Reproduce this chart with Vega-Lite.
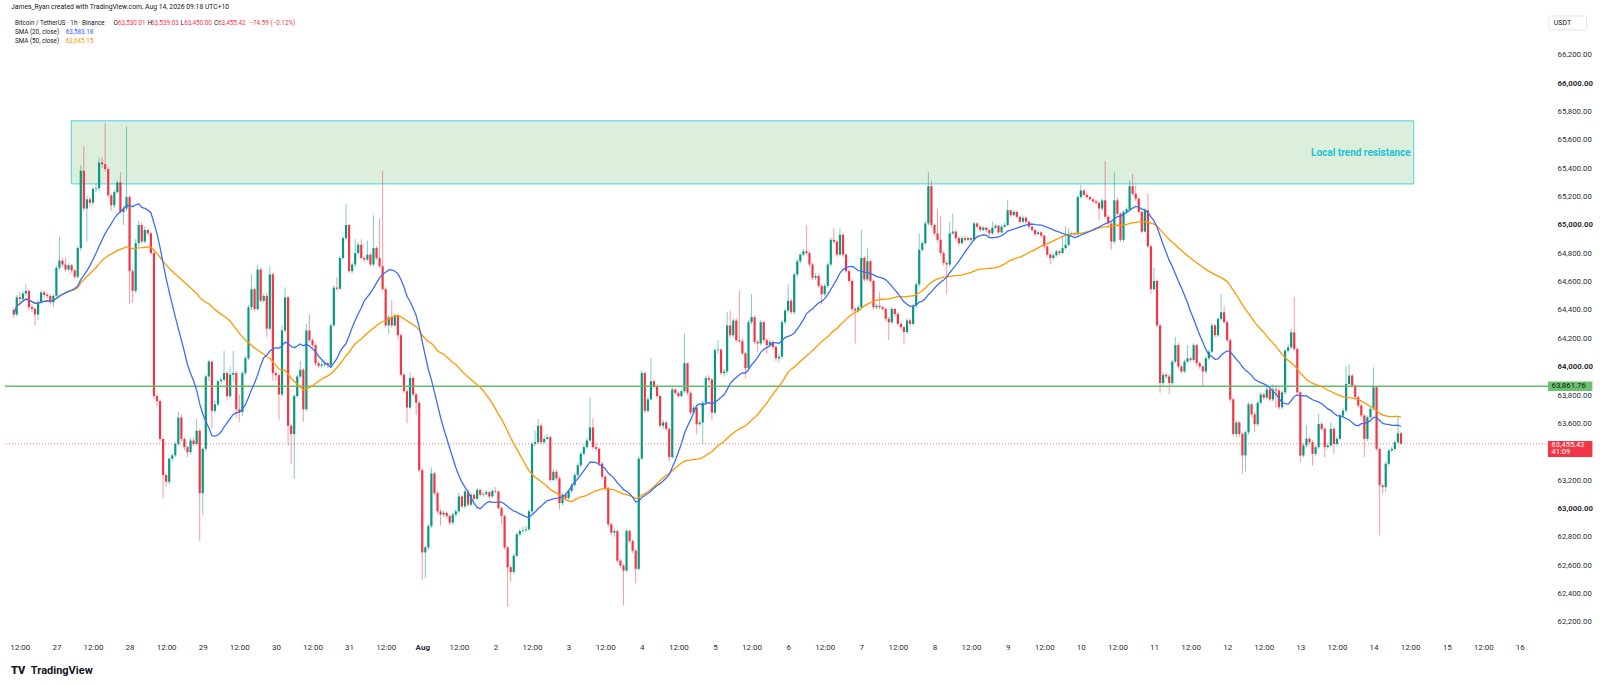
{
"$schema": "https://vega.github.io/schema/vega-lite/v6.json",
"width": 1547, "height": 623,
"autosize": {"type": "none"},
"padding": {"left": 5, "top": 15, "right": 48, "bottom": 48},
"background": "white",
"config": {"view": {"stroke": null}, "text": {"font": "Roboto"}, "axis": {"labelFont": "Roboto", "labelOverlap": false}},
"data": {"values": [
{"t":10,"o":64400,"h":64415,"l":64345,"c":64368},
{"t":11,"o":64368,"h":64505,"l":64355,"c":64489},
{"t":12,"o":64489,"h":64525,"l":64455,"c":64477},
{"t":13,"o":64477,"h":64535,"l":64462,"c":64517},
{"t":14,"o":64517,"h":64582,"l":64500,"c":64535},
{"t":15,"o":64535,"h":64548,"l":64400,"c":64419},
{"t":16,"o":64419,"h":64440,"l":64385,"c":64407},
{"t":17,"o":64407,"h":64420,"l":64291,"c":64368},
{"t":18,"o":64368,"h":64470,"l":64330,"c":64454},
{"t":19,"o":64454,"h":64540,"l":64440,"c":64524},
{"t":20,"o":64524,"h":64538,"l":64490,"c":64507},
{"t":21,"o":64507,"h":64522,"l":64480,"c":64498},
{"t":22,"o":64498,"h":64512,"l":64440,"c":64454},
{"t":23,"o":64454,"h":64512,"l":64420,"c":64500},
{"t":24,"o":64500,"h":64712,"l":64490,"c":64698},
{"t":25,"o":64698,"h":64918,"l":64682,"c":64749},
{"t":26,"o":64749,"h":64767,"l":64702,"c":64721},
{"t":27,"o":64721,"h":64767,"l":64670,"c":64686},
{"t":28,"o":64686,"h":64730,"l":64672,"c":64716},
{"t":29,"o":64716,"h":64725,"l":64660,"c":64679},
{"t":30,"o":64679,"h":64690,"l":64620,"c":64635},
{"t":31,"o":64635,"h":64852,"l":64622,"c":64837},
{"t":32,"o":64837,"h":65420,"l":64820,"c":65383},
{"t":33,"o":65383,"h":65557,"l":65100,"c":65116},
{"t":34,"o":65116,"h":65205,"l":64883,"c":65181},
{"t":35,"o":65181,"h":65200,"l":65130,"c":65157},
{"t":36,"o":65157,"h":65267,"l":65140,"c":65255},
{"t":37,"o":65255,"h":65290,"l":65230,"c":65260},
{"t":38,"o":65260,"h":65476,"l":65240,"c":65441},
{"t":39,"o":65441,"h":65476,"l":65400,"c":65429},
{"t":40,"o":65429,"h":65719,"l":65380,"c":65394},
{"t":41,"o":65394,"h":65405,"l":65190,"c":65209},
{"t":42,"o":65209,"h":65222,"l":65100,"c":65139},
{"t":43,"o":65139,"h":65250,"l":65120,"c":65232},
{"t":44,"o":65232,"h":65315,"l":65220,"c":65301},
{"t":45,"o":65301,"h":65371,"l":65080,"c":65092},
{"t":46,"o":65092,"h":65135,"l":65000,"c":65116},
{"t":47,"o":65116,"h":65696,"l":65100,"c":65197},
{"t":48,"o":65197,"h":65212,"l":64442,"c":64674},
{"t":49,"o":64674,"h":64690,"l":64450,"c":64535},
{"t":50,"o":64535,"h":64900,"l":64520,"c":64872},
{"t":51,"o":64872,"h":65030,"l":64850,"c":65000},
{"t":52,"o":65000,"h":65020,"l":64870,"c":64883},
{"t":53,"o":64883,"h":64990,"l":64870,"c":64965},
{"t":54,"o":64965,"h":64975,"l":64925,"c":64941},
{"t":55,"o":64941,"h":64950,"l":64790,"c":64802},
{"t":56,"o":64802,"h":64820,"l":63770,"c":63792},
{"t":57,"o":63792,"h":63805,"l":63720,"c":63757},
{"t":58,"o":63757,"h":63770,"l":63470,"c":63490},
{"t":59,"o":63490,"h":63500,"l":63072,"c":63235},
{"t":60,"o":63235,"h":63250,"l":63150,"c":63188},
{"t":61,"o":63188,"h":63360,"l":63170,"c":63351},
{"t":62,"o":63351,"h":63390,"l":63330,"c":63374},
{"t":63,"o":63374,"h":63470,"l":63360,"c":63455},
{"t":64,"o":63455,"h":63680,"l":63440,"c":63641},
{"t":65,"o":63641,"h":63660,"l":63470,"c":63490},
{"t":66,"o":63490,"h":63500,"l":63410,"c":63432},
{"t":67,"o":63432,"h":63440,"l":63360,"c":63397},
{"t":68,"o":63397,"h":63500,"l":63380,"c":63479},
{"t":69,"o":63479,"h":63500,"l":63440,"c":63455},
{"t":70,"o":63455,"h":63630,"l":63440,"c":63548},
{"t":71,"o":63548,"h":63560,"l":62770,"c":63107},
{"t":72,"o":63107,"h":63430,"l":62950,"c":63420},
{"t":73,"o":63420,"h":63945,"l":63400,"c":63931},
{"t":74,"o":63931,"h":64050,"l":63900,"c":64036},
{"t":75,"o":64036,"h":64040,"l":63560,"c":63688},
{"t":76,"o":63688,"h":63760,"l":63670,"c":63734},
{"t":77,"o":63734,"h":63910,"l":63720,"c":63897},
{"t":78,"o":63897,"h":63925,"l":63880,"c":63908},
{"t":79,"o":63908,"h":64110,"l":63890,"c":63955},
{"t":80,"o":63955,"h":63970,"l":63760,"c":63792},
{"t":81,"o":63792,"h":64000,"l":63780,"c":63943},
{"t":82,"o":63943,"h":64110,"l":63900,"c":63955},
{"t":83,"o":63955,"h":63970,"l":63640,"c":63699},
{"t":84,"o":63699,"h":63800,"l":63610,"c":63680},
{"t":85,"o":63680,"h":63970,"l":63650,"c":63955},
{"t":86,"o":63955,"h":64075,"l":63940,"c":64059},
{"t":87,"o":64059,"h":64435,"l":64045,"c":64419},
{"t":88,"o":64419,"h":64650,"l":64400,"c":64547},
{"t":89,"o":64547,"h":64560,"l":64390,"c":64407},
{"t":90,"o":64407,"h":64720,"l":64395,"c":64686},
{"t":91,"o":64686,"h":64700,"l":64450,"c":64465},
{"t":92,"o":64465,"h":64515,"l":64450,"c":64500},
{"t":93,"o":64500,"h":64520,"l":64210,"c":64268},
{"t":94,"o":64268,"h":64709,"l":64255,"c":64651},
{"t":95,"o":64651,"h":64665,"l":63900,"c":63955},
{"t":96,"o":63955,"h":63970,"l":63900,"c":63940},
{"t":97,"o":63940,"h":63955,"l":63620,"c":63804},
{"t":98,"o":63804,"h":64290,"l":63790,"c":64256},
{"t":99,"o":64256,"h":64560,"l":64240,"c":64489},
{"t":100,"o":64489,"h":64500,"l":63444,"c":63583},
{"t":101,"o":63583,"h":63600,"l":63313,"c":63525},
{"t":102,"o":63525,"h":63805,"l":63209,"c":63792},
{"t":103,"o":63792,"h":63945,"l":63780,"c":63931},
{"t":104,"o":63931,"h":64040,"l":63915,"c":63978},
{"t":105,"o":63978,"h":63990,"l":63610,"c":63699},
{"t":106,"o":63699,"h":64300,"l":63685,"c":64256},
{"t":107,"o":64256,"h":64370,"l":64170,"c":64187},
{"t":108,"o":64187,"h":64200,"l":64135,"c":64152},
{"t":109,"o":64152,"h":64165,"l":64005,"c":64024},
{"t":110,"o":64024,"h":64040,"l":63990,"c":64006},
{"t":111,"o":64006,"h":64040,"l":63990,"c":64015},
{"t":112,"o":64015,"h":64045,"l":63995,"c":64024},
{"t":113,"o":64024,"h":64035,"l":63990,"c":64010},
{"t":114,"o":64010,"h":64305,"l":63998,"c":64291},
{"t":115,"o":64291,"h":64575,"l":64280,"c":64558},
{"t":116,"o":64558,"h":64628,"l":64535,"c":64550},
{"t":117,"o":64550,"h":64780,"l":64540,"c":64767},
{"t":118,"o":64767,"h":64920,"l":64755,"c":64907},
{"t":119,"o":64907,"h":65150,"l":64890,"c":65000},
{"t":120,"o":65000,"h":65010,"l":64660,"c":64674},
{"t":121,"o":64674,"h":64735,"l":64660,"c":64721},
{"t":122,"o":64721,"h":64900,"l":64705,"c":64802},
{"t":123,"o":64802,"h":64880,"l":64790,"c":64860},
{"t":124,"o":64860,"h":64900,"l":64755,"c":64767},
{"t":125,"o":64767,"h":64780,"l":64740,"c":64756},
{"t":126,"o":64756,"h":64890,"l":64745,"c":64790},
{"t":127,"o":64790,"h":64800,"l":64705,"c":64721},
{"t":128,"o":64721,"h":65069,"l":64710,"c":64837},
{"t":129,"o":64837,"h":64850,"l":64750,"c":64767},
{"t":130,"o":64767,"h":65045,"l":64695,"c":64709},
{"t":131,"o":64709,"h":65383,"l":64535,"c":64547},
{"t":132,"o":64547,"h":64560,"l":64275,"c":64291},
{"t":133,"o":64291,"h":64365,"l":64230,"c":64349},
{"t":134,"o":64349,"h":64470,"l":64275,"c":64291},
{"t":135,"o":64291,"h":64375,"l":64280,"c":64361},
{"t":136,"o":64361,"h":64375,"l":64190,"c":64222},
{"t":137,"o":64222,"h":64235,"l":63930,"c":63943},
{"t":138,"o":63943,"h":63955,"l":63815,"c":63827},
{"t":139,"o":63827,"h":63840,"l":63600,"c":63711},
{"t":140,"o":63711,"h":63960,"l":63700,"c":63920},
{"t":141,"o":63920,"h":63930,"l":63790,"c":63804},
{"t":142,"o":63804,"h":63815,"l":63660,"c":63746},
{"t":143,"o":63746,"h":63760,"l":63255,"c":63270},
{"t":144,"o":63270,"h":63285,"l":62492,"c":62689},
{"t":145,"o":62689,"h":62740,"l":62510,"c":62724},
{"t":146,"o":62724,"h":62890,"l":62705,"c":62875},
{"t":147,"o":62875,"h":63290,"l":62860,"c":63246},
{"t":148,"o":63246,"h":63260,"l":63090,"c":63107},
{"t":149,"o":63107,"h":63120,"l":62960,"c":62979},
{"t":150,"o":62979,"h":62995,"l":62880,"c":62956},
{"t":151,"o":62956,"h":62985,"l":62940,"c":62968},
{"t":152,"o":62968,"h":62980,"l":62930,"c":62945},
{"t":153,"o":62945,"h":62960,"l":62880,"c":62899},
{"t":154,"o":62899,"h":62970,"l":62885,"c":62956},
{"t":155,"o":62956,"h":62995,"l":62940,"c":62979},
{"t":156,"o":62979,"h":63110,"l":62965,"c":63084},
{"t":157,"o":63084,"h":63095,"l":63000,"c":63014},
{"t":158,"o":63014,"h":63135,"l":63000,"c":63119},
{"t":159,"o":63119,"h":63135,"l":63010,"c":63026},
{"t":160,"o":63026,"h":63110,"l":63015,"c":63096},
{"t":161,"o":63096,"h":63105,"l":63055,"c":63068},
{"t":162,"o":63068,"h":63145,"l":63060,"c":63130},
{"t":163,"o":63130,"h":63140,"l":63085,"c":63096},
{"t":164,"o":63096,"h":63115,"l":63080,"c":63100},
{"t":165,"o":63100,"h":63130,"l":63090,"c":63114},
{"t":166,"o":63114,"h":63125,"l":63070,"c":63084},
{"t":167,"o":63084,"h":63135,"l":63075,"c":63123},
{"t":168,"o":63123,"h":63150,"l":63105,"c":63119},
{"t":169,"o":63119,"h":63125,"l":62990,"c":63003},
{"t":170,"o":63003,"h":63010,"l":62887,"c":62945},
{"t":171,"o":62945,"h":62955,"l":62710,"c":62724},
{"t":172,"o":62724,"h":62735,"l":62306,"c":62584},
{"t":173,"o":62584,"h":62600,"l":62480,"c":62550},
{"t":174,"o":62550,"h":62680,"l":62540,"c":62666},
{"t":175,"o":62666,"h":62830,"l":62655,"c":62817},
{"t":176,"o":62817,"h":62855,"l":62800,"c":62840},
{"t":177,"o":62840,"h":62870,"l":62825,"c":62845},
{"t":178,"o":62845,"h":62875,"l":62830,"c":62852},
{"t":179,"o":62852,"h":62995,"l":62840,"c":62979},
{"t":180,"o":62979,"h":63470,"l":62965,"c":63455},
{"t":181,"o":63455,"h":63548,"l":63440,"c":63467},
{"t":182,"o":63467,"h":63630,"l":63455,"c":63583},
{"t":183,"o":63583,"h":63600,"l":63450,"c":63467},
{"t":184,"o":63467,"h":63510,"l":63455,"c":63490},
{"t":185,"o":63490,"h":63525,"l":63480,"c":63502},
{"t":186,"o":63502,"h":63515,"l":63185,"c":63200},
{"t":187,"o":63200,"h":63275,"l":63190,"c":63258},
{"t":188,"o":63258,"h":63270,"l":63195,"c":63212},
{"t":189,"o":63212,"h":63225,"l":62990,"c":63037},
{"t":190,"o":63037,"h":63110,"l":63020,"c":63096},
{"t":191,"o":63096,"h":63105,"l":63055,"c":63072},
{"t":192,"o":63072,"h":63135,"l":63060,"c":63123},
{"t":193,"o":63123,"h":63180,"l":63110,"c":63165},
{"t":194,"o":63165,"h":63250,"l":63150,"c":63235},
{"t":195,"o":63235,"h":63320,"l":63220,"c":63304},
{"t":196,"o":63304,"h":63400,"l":63290,"c":63386},
{"t":197,"o":63386,"h":63450,"l":63375,"c":63432},
{"t":198,"o":63432,"h":63500,"l":63420,"c":63479},
{"t":199,"o":63479,"h":63780,"l":63465,"c":63571},
{"t":200,"o":63571,"h":63640,"l":63420,"c":63432},
{"t":201,"o":63432,"h":63460,"l":63400,"c":63420},
{"t":202,"o":63420,"h":63430,"l":63300,"c":63316},
{"t":203,"o":63316,"h":63330,"l":63205,"c":63223},
{"t":204,"o":63223,"h":63235,"l":63125,"c":63142},
{"t":205,"o":63142,"h":63155,"l":62870,"c":62887},
{"t":206,"o":62887,"h":62900,"l":62810,"c":62829},
{"t":207,"o":62829,"h":62860,"l":62800,"c":62840},
{"t":208,"o":62840,"h":62850,"l":62615,"c":62631},
{"t":209,"o":62631,"h":62645,"l":62580,"c":62596},
{"t":210,"o":62596,"h":62610,"l":62318,"c":62561},
{"t":211,"o":62561,"h":62855,"l":62550,"c":62840},
{"t":212,"o":62840,"h":62850,"l":62755,"c":62770},
{"t":213,"o":62770,"h":62780,"l":62685,"c":62701},
{"t":214,"o":62701,"h":62715,"l":62470,"c":62573},
{"t":215,"o":62573,"h":63365,"l":62560,"c":63351},
{"t":216,"o":63351,"h":63975,"l":63340,"c":63955},
{"t":217,"o":63955,"h":63965,"l":63670,"c":63688},
{"t":218,"o":63688,"h":63790,"l":63675,"c":63769},
{"t":219,"o":63769,"h":64059,"l":63760,"c":63897},
{"t":220,"o":63897,"h":63910,"l":63845,"c":63862},
{"t":221,"o":63862,"h":63875,"l":63778,"c":63792},
{"t":222,"o":63792,"h":63800,"l":63570,"c":63583},
{"t":223,"o":63583,"h":63625,"l":63560,"c":63606},
{"t":224,"o":63606,"h":63620,"l":63545,"c":63560},
{"t":225,"o":63560,"h":63575,"l":63330,"c":63362},
{"t":226,"o":63362,"h":63855,"l":63350,"c":63839},
{"t":227,"o":63839,"h":63850,"l":63800,"c":63815},
{"t":228,"o":63815,"h":63825,"l":63778,"c":63792},
{"t":229,"o":63792,"h":63840,"l":63785,"c":63827},
{"t":230,"o":63827,"h":64233,"l":63815,"c":64024},
{"t":231,"o":64024,"h":64030,"l":63800,"c":63815},
{"t":232,"o":63815,"h":63825,"l":63660,"c":63676},
{"t":233,"o":63676,"h":63725,"l":63665,"c":63711},
{"t":234,"o":63711,"h":63720,"l":63525,"c":63594},
{"t":235,"o":63594,"h":63625,"l":63580,"c":63606},
{"t":236,"o":63606,"h":63760,"l":63455,"c":63745},
{"t":237,"o":63745,"h":63935,"l":63730,"c":63920},
{"t":238,"o":63920,"h":63940,"l":63890,"c":63908},
{"t":239,"o":63908,"h":63920,"l":63620,"c":63676},
{"t":240,"o":63676,"h":64130,"l":63660,"c":64117},
{"t":241,"o":64117,"h":64187,"l":64095,"c":64120},
{"t":242,"o":64120,"h":64130,"l":63940,"c":63955},
{"t":243,"o":63955,"h":63985,"l":63930,"c":63966},
{"t":244,"o":63966,"h":64384,"l":63950,"c":64291},
{"t":245,"o":64291,"h":64396,"l":64205,"c":64222},
{"t":246,"o":64222,"h":64340,"l":64205,"c":64326},
{"t":247,"o":64326,"h":64340,"l":64170,"c":64187},
{"t":248,"o":64187,"h":64535,"l":64165,"c":64180},
{"t":249,"o":64180,"h":64200,"l":64080,"c":64094},
{"t":250,"o":64094,"h":64105,"l":63920,"c":63989},
{"t":251,"o":63989,"h":64330,"l":63975,"c":64314},
{"t":252,"o":64314,"h":64512,"l":64300,"c":64349},
{"t":253,"o":64349,"h":64360,"l":64160,"c":64175},
{"t":254,"o":64175,"h":64190,"l":64100,"c":64164},
{"t":255,"o":64164,"h":64330,"l":64150,"c":64314},
{"t":256,"o":64314,"h":64325,"l":64170,"c":64187},
{"t":257,"o":64187,"h":64200,"l":64090,"c":64152},
{"t":258,"o":64152,"h":64190,"l":64135,"c":64175},
{"t":259,"o":64175,"h":64185,"l":64125,"c":64140},
{"t":260,"o":64140,"h":64150,"l":64040,"c":64059},
{"t":261,"o":64059,"h":64090,"l":64030,"c":64071},
{"t":262,"o":64071,"h":64330,"l":64055,"c":64314},
{"t":263,"o":64314,"h":64410,"l":64300,"c":64396},
{"t":264,"o":64396,"h":64582,"l":64380,"c":64465},
{"t":265,"o":64465,"h":64480,"l":64370,"c":64384},
{"t":266,"o":64384,"h":64665,"l":64370,"c":64651},
{"t":267,"o":64651,"h":64760,"l":64630,"c":64744},
{"t":268,"o":64744,"h":64805,"l":64730,"c":64791},
{"t":269,"o":64791,"h":64830,"l":64780,"c":64814},
{"t":270,"o":64814,"h":65000,"l":64790,"c":64802},
{"t":271,"o":64802,"h":64815,"l":64705,"c":64721},
{"t":272,"o":64721,"h":64735,"l":64610,"c":64628},
{"t":273,"o":64628,"h":64660,"l":64610,"c":64640},
{"t":274,"o":64640,"h":64655,"l":64555,"c":64570},
{"t":275,"o":64570,"h":64585,"l":64440,"c":64512},
{"t":276,"o":64512,"h":64585,"l":64500,"c":64570},
{"t":277,"o":64570,"h":64735,"l":64555,"c":64721},
{"t":278,"o":64721,"h":64910,"l":64705,"c":64895},
{"t":279,"o":64895,"h":64977,"l":64865,"c":64883},
{"t":280,"o":64883,"h":64895,"l":64775,"c":64791},
{"t":281,"o":64791,"h":64977,"l":64780,"c":64930},
{"t":282,"o":64930,"h":64945,"l":64775,"c":64791},
{"t":283,"o":64791,"h":64800,"l":64660,"c":64674},
{"t":284,"o":64674,"h":64690,"l":64590,"c":64605},
{"t":285,"o":64605,"h":64620,"l":64390,"c":64407},
{"t":286,"o":64407,"h":64420,"l":64163,"c":64396},
{"t":287,"o":64396,"h":64435,"l":64380,"c":64419},
{"t":288,"o":64419,"h":64965,"l":64405,"c":64767},
{"t":289,"o":64767,"h":64780,"l":64600,"c":64616},
{"t":290,"o":64616,"h":64837,"l":64600,"c":64744},
{"t":291,"o":64744,"h":64755,"l":64590,"c":64605},
{"t":292,"o":64605,"h":64615,"l":64405,"c":64419},
{"t":293,"o":64419,"h":64445,"l":64405,"c":64430},
{"t":294,"o":64430,"h":64524,"l":64405,"c":64419},
{"t":295,"o":64419,"h":64430,"l":64395,"c":64407},
{"t":296,"o":64407,"h":64420,"l":64320,"c":64338},
{"t":297,"o":64338,"h":64350,"l":64187,"c":64314},
{"t":298,"o":64314,"h":64420,"l":64300,"c":64407},
{"t":299,"o":64407,"h":64415,"l":64355,"c":64372},
{"t":300,"o":64372,"h":64385,"l":64285,"c":64302},
{"t":301,"o":64302,"h":64315,"l":64262,"c":64279},
{"t":302,"o":64279,"h":64290,"l":64163,"c":64245},
{"t":303,"o":64245,"h":64340,"l":64230,"c":64326},
{"t":304,"o":64326,"h":64340,"l":64285,"c":64302},
{"t":305,"o":64302,"h":64445,"l":64290,"c":64430},
{"t":306,"o":64430,"h":64595,"l":64415,"c":64581},
{"t":307,"o":64581,"h":64941,"l":64565,"c":64825},
{"t":308,"o":64825,"h":64890,"l":64810,"c":64872},
{"t":309,"o":64872,"h":65030,"l":64860,"c":65011},
{"t":310,"o":65011,"h":65371,"l":64995,"c":65274},
{"t":311,"o":65274,"h":65313,"l":64985,"c":65000},
{"t":312,"o":65000,"h":65010,"l":64925,"c":64941},
{"t":313,"o":64941,"h":65115,"l":64880,"c":64895},
{"t":314,"o":64895,"h":65060,"l":64785,"c":64802},
{"t":315,"o":64802,"h":64815,"l":64715,"c":64732},
{"t":316,"o":64732,"h":64745,"l":64512,"c":64721},
{"t":317,"o":64721,"h":65020,"l":64705,"c":64941},
{"t":318,"o":64941,"h":65081,"l":64930,"c":64953},
{"t":319,"o":64953,"h":64965,"l":64890,"c":64907},
{"t":320,"o":64907,"h":64920,"l":64855,"c":64872},
{"t":321,"o":64872,"h":64920,"l":64860,"c":64907},
{"t":322,"o":64907,"h":64920,"l":64880,"c":64895},
{"t":323,"o":64895,"h":64920,"l":64885,"c":64907},
{"t":324,"o":64907,"h":64915,"l":64880,"c":64895},
{"t":325,"o":64895,"h":65023,"l":64885,"c":65011},
{"t":326,"o":65011,"h":65020,"l":64975,"c":64988},
{"t":327,"o":64988,"h":64995,"l":64950,"c":64965},
{"t":328,"o":64965,"h":64995,"l":64955,"c":64981},
{"t":329,"o":64981,"h":64990,"l":64950,"c":64965},
{"t":330,"o":64965,"h":64975,"l":64925,"c":64941},
{"t":331,"o":64941,"h":65023,"l":64930,"c":64981},
{"t":332,"o":64981,"h":65010,"l":64970,"c":64995},
{"t":333,"o":64995,"h":65000,"l":64935,"c":64948},
{"t":334,"o":64948,"h":65000,"l":64940,"c":64988},
{"t":335,"o":64988,"h":65015,"l":64980,"c":65000},
{"t":336,"o":65000,"h":65174,"l":64990,"c":65104},
{"t":337,"o":65104,"h":65110,"l":65055,"c":65069},
{"t":338,"o":65069,"h":65105,"l":65060,"c":65092},
{"t":339,"o":65092,"h":65100,"l":65045,"c":65058},
{"t":340,"o":65058,"h":65065,"l":65010,"c":65023},
{"t":341,"o":65023,"h":65065,"l":65015,"c":65051},
{"t":342,"o":65051,"h":65060,"l":65010,"c":65023},
{"t":343,"o":65023,"h":65030,"l":64975,"c":64988},
{"t":344,"o":64988,"h":64995,"l":64950,"c":64965},
{"t":345,"o":64965,"h":64970,"l":64920,"c":64935},
{"t":346,"o":64935,"h":64960,"l":64925,"c":64948},
{"t":347,"o":64948,"h":64955,"l":64910,"c":64925},
{"t":348,"o":64925,"h":64930,"l":64835,"c":64849},
{"t":349,"o":64849,"h":64855,"l":64775,"c":64791},
{"t":350,"o":64791,"h":64800,"l":64721,"c":64767},
{"t":351,"o":64767,"h":64800,"l":64755,"c":64786},
{"t":352,"o":64786,"h":64825,"l":64775,"c":64814},
{"t":353,"o":64814,"h":64825,"l":64785,"c":64802},
{"t":354,"o":64802,"h":64918,"l":64795,"c":64837},
{"t":355,"o":64837,"h":64988,"l":64825,"c":64860},
{"t":356,"o":64860,"h":64977,"l":64850,"c":64934},
{"t":357,"o":64934,"h":64955,"l":64925,"c":64939},
{"t":358,"o":64939,"h":64950,"l":64920,"c":64934},
{"t":359,"o":64934,"h":65210,"l":64925,"c":65197},
{"t":360,"o":65197,"h":65283,"l":65185,"c":65243},
{"t":361,"o":65243,"h":65255,"l":65200,"c":65213},
{"t":362,"o":65213,"h":65225,"l":65185,"c":65197},
{"t":363,"o":65197,"h":65205,"l":65170,"c":65181},
{"t":364,"o":65181,"h":65190,"l":65155,"c":65167},
{"t":365,"o":65167,"h":65180,"l":65140,"c":65157},
{"t":366,"o":65157,"h":65170,"l":65034,"c":65116},
{"t":367,"o":65116,"h":65190,"l":65100,"c":65174},
{"t":368,"o":65174,"h":65452,"l":65045,"c":65058},
{"t":369,"o":65058,"h":65070,"l":64995,"c":65011},
{"t":370,"o":65011,"h":65025,"l":64825,"c":64883},
{"t":371,"o":64883,"h":65371,"l":64870,"c":65174},
{"t":372,"o":65174,"h":65197,"l":65065,"c":65080},
{"t":373,"o":65080,"h":65090,"l":64880,"c":64895},
{"t":374,"o":64895,"h":65105,"l":64880,"c":65092},
{"t":375,"o":65092,"h":65125,"l":65080,"c":65111},
{"t":376,"o":65111,"h":65313,"l":65100,"c":65274},
{"t":377,"o":65274,"h":65360,"l":65205,"c":65220},
{"t":378,"o":65220,"h":65280,"l":65170,"c":65185},
{"t":379,"o":65185,"h":65200,"l":65080,"c":65092},
{"t":380,"o":65092,"h":65100,"l":64940,"c":64953},
{"t":381,"o":64953,"h":65118,"l":64945,"c":65104},
{"t":382,"o":65104,"h":65220,"l":64835,"c":64849},
{"t":383,"o":64849,"h":64860,"l":64512,"c":64547},
{"t":384,"o":64547,"h":64700,"l":64535,"c":64605},
{"t":385,"o":64605,"h":64615,"l":64275,"c":64291},
{"t":386,"o":64291,"h":64300,"l":63815,"c":63885},
{"t":387,"o":63885,"h":63960,"l":63870,"c":63943},
{"t":388,"o":63943,"h":63955,"l":63915,"c":63931},
{"t":389,"o":63931,"h":63945,"l":63804,"c":63885},
{"t":390,"o":63885,"h":64050,"l":63870,"c":64036},
{"t":391,"o":64036,"h":64210,"l":64025,"c":64152},
{"t":392,"o":64152,"h":64165,"l":63985,"c":64001},
{"t":393,"o":64001,"h":64015,"l":63950,"c":63966},
{"t":394,"o":63966,"h":64050,"l":63955,"c":64036},
{"t":395,"o":64036,"h":64152,"l":64025,"c":64059},
{"t":396,"o":64059,"h":64070,"l":64030,"c":64048},
{"t":397,"o":64048,"h":64165,"l":64035,"c":64152},
{"t":398,"o":64152,"h":64160,"l":64005,"c":64024},
{"t":399,"o":64024,"h":64035,"l":63985,"c":64001},
{"t":400,"o":64001,"h":64010,"l":63862,"c":63966},
{"t":401,"o":63966,"h":64075,"l":63950,"c":64059},
{"t":402,"o":64059,"h":64120,"l":64045,"c":64106},
{"t":403,"o":64106,"h":64305,"l":64095,"c":64291},
{"t":404,"o":64291,"h":64300,"l":64205,"c":64222},
{"t":405,"o":64222,"h":64350,"l":64210,"c":64338},
{"t":406,"o":64338,"h":64512,"l":64325,"c":64384},
{"t":407,"o":64384,"h":64430,"l":64300,"c":64314},
{"t":408,"o":64314,"h":64325,"l":64170,"c":64187},
{"t":409,"o":64187,"h":64200,"l":63750,"c":63769},
{"t":410,"o":63769,"h":63780,"l":63510,"c":63525},
{"t":411,"o":63525,"h":63620,"l":63500,"c":63606},
{"t":412,"o":63606,"h":63615,"l":63505,"c":63525},
{"t":413,"o":63525,"h":63540,"l":63246,"c":63374},
{"t":414,"o":63374,"h":63550,"l":63260,"c":63537},
{"t":415,"o":63537,"h":63750,"l":63520,"c":63734},
{"t":416,"o":63734,"h":63745,"l":63645,"c":63664},
{"t":417,"o":63664,"h":63680,"l":63540,"c":63594},
{"t":418,"o":63594,"h":63760,"l":63580,"c":63745},
{"t":419,"o":63745,"h":63820,"l":63730,"c":63804},
{"t":420,"o":63804,"h":63815,"l":63765,"c":63781},
{"t":421,"o":63781,"h":63875,"l":63770,"c":63839},
{"t":422,"o":63839,"h":63850,"l":63755,"c":63769},
{"t":423,"o":63769,"h":63875,"l":63755,"c":63839},
{"t":424,"o":63839,"h":63870,"l":63711,"c":63831},
{"t":425,"o":63831,"h":63845,"l":63700,"c":63714},
{"t":426,"o":63714,"h":63835,"l":63700,"c":63819},
{"t":427,"o":63819,"h":64125,"l":63805,"c":64113},
{"t":428,"o":64113,"h":64160,"l":64100,"c":64137},
{"t":429,"o":64137,"h":64266,"l":64125,"c":64242},
{"t":430,"o":64242,"h":64489,"l":64110,"c":64125},
{"t":431,"o":64125,"h":64135,"l":63805,"c":63819},
{"t":432,"o":63819,"h":63830,"l":63326,"c":63373},
{"t":433,"o":63373,"h":63460,"l":63360,"c":63444},
{"t":434,"o":63444,"h":63585,"l":63430,"c":63491},
{"t":435,"o":63491,"h":63505,"l":63450,"c":63467},
{"t":436,"o":63467,"h":63480,"l":63303,"c":63385},
{"t":437,"o":63385,"h":63445,"l":63370,"c":63432},
{"t":438,"o":63432,"h":63667,"l":63420,"c":63596},
{"t":439,"o":63596,"h":63610,"l":63545,"c":63561},
{"t":440,"o":63561,"h":63575,"l":63362,"c":63432},
{"t":441,"o":63432,"h":63460,"l":63420,"c":63444},
{"t":442,"o":63444,"h":63608,"l":63430,"c":63561},
{"t":443,"o":63561,"h":63575,"l":63385,"c":63455},
{"t":444,"o":63455,"h":63505,"l":63440,"c":63491},
{"t":445,"o":63491,"h":63670,"l":63480,"c":63655},
{"t":446,"o":63655,"h":63705,"l":63640,"c":63690},
{"t":447,"o":63690,"h":64007,"l":63675,"c":63878},
{"t":448,"o":63878,"h":64019,"l":63865,"c":63937},
{"t":449,"o":63937,"h":63950,"l":63850,"c":63866},
{"t":450,"o":63866,"h":63880,"l":63770,"c":63784},
{"t":451,"o":63784,"h":63795,"l":63710,"c":63726},
{"t":452,"o":63726,"h":63740,"l":63640,"c":63655},
{"t":453,"o":63655,"h":63665,"l":63362,"c":63491},
{"t":454,"o":63491,"h":63655,"l":63475,"c":63643},
{"t":455,"o":63643,"h":63720,"l":63630,"c":63702},
{"t":456,"o":63702,"h":63996,"l":63690,"c":63855},
{"t":457,"o":63855,"h":63865,"l":63405,"c":63420},
{"t":458,"o":63420,"h":63430,"l":62809,"c":63162},
{"t":459,"o":63162,"h":63175,"l":63100,"c":63150},
{"t":460,"o":63150,"h":63330,"l":63115,"c":63314},
{"t":461,"o":63314,"h":63420,"l":63300,"c":63408},
{"t":462,"o":63408,"h":63435,"l":63395,"c":63420},
{"t":463,"o":63420,"h":63480,"l":63405,"c":63467},
{"t":464,"o":63467,"h":63643,"l":63455,"c":63530},
{"t":465,"o":63530.01,"h":63539.03,"l":63450,"c":63455.42}
]},
"layer": [
{"data": {"values": [{}]},
 "mark": {"type": "rect", "fill": "#4caf50", "fillOpacity": 0.2, "stroke": "#4dd0e1", "strokeWidth": 1},
 "encoding": {"x": {"datum": 28.9, "type": "quantitative", "title": null}, "x2": {"datum": 469.2}, "y": {"datum": 65735, "type": "quantitative", "title": null}, "y2": {"datum": 65290}}},
{"mark": {"type": "rule", "strokeWidth": 1, "opacity": 0.5},
 "encoding": {
  "x": {"field": "t", "type": "quantitative", "title": null, "scale": {"domain": [8.785, 512.9], "nice": false, "zero": false},
   "axis": {"values": [12,24,36,48,60,72,84,96,108,120,132,144,156,168,180,192,204,216,228,240,252,264,276,288,300,312,324,336,348,360,372,384,396,408,420,432,444,456,468,480,492,504],
    "tickCount": 200,
    "labelExpr": "datum.value % 24 == 12 ? '12:00' : (datum.value == 144 ? 'Aug' : '' + ((26 + datum.value / 24) > 31 ? (26 + datum.value / 24 - 31) : (26 + datum.value / 24)))",
    "grid": false, "ticks": false, "domain": false, "labelFontSize": 8, "labelColor": "#2a2e39", "labelPadding": 5, "labelFlush": false, "labelOverlap": false,
    "labelFontWeight": {"condition": {"test": "datum.value == 144", "value": "bold"}, "value": "normal"}}},
  "y": {"field": "l", "type": "quantitative", "title": null, "scale": {"domain": [62085, 66482], "nice": false, "zero": false},
   "axis": {"orient": "right", "values": [62200,62400,62600,62800,63000,63200,63600,63800,64000,64200,64400,64600,64800,65000,65200,65400,65600,65800,66000,66200],
    "tickCount": 200,
    "format": ",.2f", "grid": false, "ticks": false, "domain": false, "labelFontSize": 7.8, "labelColor": "#2a2e39", "labelPadding": 5, "labelFlush": false, "labelOverlap": false,
    "labelFontWeight": {"condition": {"test": "datum.value % 1000 == 0", "value": "bold"}, "value": "normal"}}},
  "y2": {"field": "h"},
  "color": {"condition": {"test": "datum.c >= datum.o", "value": "#089981"}, "value": "#f23645"}}},
{"mark": {"type": "bar", "width": 2.2},
 "encoding": {
  "x": {"field": "t", "type": "quantitative", "title": null},
  "y": {"field": "o", "type": "quantitative", "title": null},
  "y2": {"field": "c"},
  "color": {"condition": {"test": "datum.c >= datum.o", "value": "#089981"}, "value": "#f23645"}}},
{"data": {"values": [{}]},
 "mark": {"type": "rule", "color": "#66bb6a", "strokeWidth": 1.5},
 "encoding": {"y": {"datum": 63861.76, "type": "quantitative", "title": null}}},
{"data": {"values": [{}]},
 "mark": {"type": "rule", "color": "#f23645", "strokeWidth": 1, "strokeDash": [1, 2], "opacity": 0.7},
 "encoding": {"y": {"datum": 63455.42, "type": "quantitative", "title": null}}},
{"transform": [{"window": [{"op": "mean", "field": "c", "as": "s50"}], "frame": [-49, 0], "sort": [{"field": "t", "order": "ascending"}]}],
 "mark": {"type": "line", "color": "#ff9800", "strokeWidth": 1.3},
 "encoding": {"x": {"field": "t", "type": "quantitative", "title": null}, "y": {"field": "s50", "type": "quantitative", "title": null}}},
{"transform": [{"window": [{"op": "mean", "field": "c", "as": "s20"}], "frame": [-19, 0], "sort": [{"field": "t", "order": "ascending"}]}],
 "mark": {"type": "line", "color": "#3b6ef6", "strokeWidth": 1.3},
 "encoding": {"x": {"field": "t", "type": "quantitative", "title": null}, "y": {"field": "s20", "type": "quantitative", "title": null}}},
{"data": {"values": [{}]},
 "mark": {"type": "text", "text": "Local trend resistance", "align": "right", "baseline": "middle", "fontSize": 10, "fontWeight": "bold", "color": "#22c1d6"},
 "encoding": {"x": {"datum": 468.2}, "y": {"datum": 65510}}},
{"data": {"values": [{}]},
 "mark": {"type": "rect", "fill": "#6cc070"},
 "encoding": {"x": {"datum": 513.2}, "x2": {"datum": 527.8}, "y": {"datum": 63895}, "y2": {"datum": 63828}}},
{"data": {"values": [{}]},
 "mark": {"type": "text", "text": "63,861.76", "align": "left", "baseline": "middle", "fontSize": 7.8, "color": "#10240f"},
 "encoding": {"x": {"datum": 514.4}, "y": {"datum": 63861.76}}},
{"data": {"values": [{}]},
 "mark": {"type": "rect", "fill": "#f23645"},
 "encoding": {"x": {"datum": 513.2}, "x2": {"datum": 527.8}, "y": {"datum": 63476}, "y2": {"datum": 63363}}},
{"data": {"values": [{}]},
 "mark": {"type": "text", "text": "63,455.42", "align": "left", "baseline": "middle", "fontSize": 7.5, "color": "white"},
 "encoding": {"x": {"datum": 514.4}, "y": {"datum": 63447}}},
{"data": {"values": [{}]},
 "mark": {"type": "text", "text": "41:09", "align": "left", "baseline": "middle", "fontSize": 7.5, "color": "white"},
 "encoding": {"x": {"datum": 514.4}, "y": {"datum": 63396}}},
{"data": {"values": [{}]},
 "mark": {"type": "rect", "fill": "white", "stroke": "#e0e3eb", "strokeWidth": 1, "cornerRadius": 2},
 "encoding": {"x": {"datum": 513.5}, "x2": {"datum": 525.9}, "y": {"datum": 66475}, "y2": {"datum": 66376}}},
{"data": {"values": [{}]},
 "mark": {"type": "text", "text": "USDT", "align": "left", "baseline": "middle", "fontSize": 7, "color": "#131722"},
 "encoding": {"x": {"datum": 515.1}, "y": {"datum": 66428}}},
{"data": {"values": [{}]},
 "mark": {"type": "text", "text": "James_Ryan created with TradingView.com, Aug 14, 2026 09:18 UTC+10", "align": "left", "baseline": "middle", "fontSize": 6.8, "color": "#131722"},
 "encoding": {"x": {"datum": 9.11}, "y": {"datum": 66536}}},
{"data": {"values": [{}]},
 "mark": {"type": "text", "text": "Bitcoin / TetherUS · 1h · Binance", "align": "left", "baseline": "middle", "fontSize": 6.3, "color": "#131722"},
 "encoding": {"x": {"datum": 10.41}, "y": {"datum": 66428}}},
{"data": {"values": [{}]},
 "mark": {"type": "text", "text": "O", "align": "left", "baseline": "middle", "fontSize": 6.3, "color": "#131722"},
 "encoding": {"x": {"datum": 42.77}, "y": {"datum": 66428}}},
{"data": {"values": [{}]},
 "mark": {"type": "text", "text": "63,530.01", "align": "left", "baseline": "middle", "fontSize": 6.3, "color": "#f23645"},
 "encoding": {"x": {"datum": 44.2}, "y": {"datum": 66428}}},
{"data": {"values": [{}]},
 "mark": {"type": "text", "text": "H", "align": "left", "baseline": "middle", "fontSize": 6.3, "color": "#131722"},
 "encoding": {"x": {"datum": 53.85}, "y": {"datum": 66428}}},
{"data": {"values": [{}]},
 "mark": {"type": "text", "text": "63,539.03", "align": "left", "baseline": "middle", "fontSize": 6.3, "color": "#f23645"},
 "encoding": {"x": {"datum": 55.05}, "y": {"datum": 66428}}},
{"data": {"values": [{}]},
 "mark": {"type": "text", "text": "L", "align": "left", "baseline": "middle", "fontSize": 6.3, "color": "#131722"},
 "encoding": {"x": {"datum": 64.73}, "y": {"datum": 66428}}},
{"data": {"values": [{}]},
 "mark": {"type": "text", "text": "63,450.00", "align": "left", "baseline": "middle", "fontSize": 6.3, "color": "#f23645"},
 "encoding": {"x": {"datum": 65.9}, "y": {"datum": 66428}}},
{"data": {"values": [{}]},
 "mark": {"type": "text", "text": "C", "align": "left", "baseline": "middle", "fontSize": 6.3, "color": "#131722"},
 "encoding": {"x": {"datum": 75.68}, "y": {"datum": 66428}}},
{"data": {"values": [{}]},
 "mark": {"type": "text", "text": "63,455.42", "align": "left", "baseline": "middle", "fontSize": 6.3, "color": "#f23645"},
 "encoding": {"x": {"datum": 76.98}, "y": {"datum": 66428}}},
{"data": {"values": [{}]},
 "mark": {"type": "text", "text": "−74.59 (−0.12%)", "align": "left", "baseline": "middle", "fontSize": 6.3, "color": "#f23645"},
 "encoding": {"x": {"datum": 87.31}, "y": {"datum": 66428}}},
{"data": {"values": [{}]},
 "mark": {"type": "text", "text": "SMA (20, close)", "align": "left", "baseline": "middle", "fontSize": 6.3, "color": "#131722"},
 "encoding": {"x": {"datum": 10.41}, "y": {"datum": 66360}}},
{"data": {"values": [{}]},
 "mark": {"type": "text", "text": "63,583.18", "align": "left", "baseline": "middle", "fontSize": 6.3, "color": "#2962ff"},
 "encoding": {"x": {"datum": 27.03}, "y": {"datum": 66360}}},
{"data": {"values": [{}]},
 "mark": {"type": "text", "text": "SMA (50, close)", "align": "left", "baseline": "middle", "fontSize": 6.3, "color": "#131722"},
 "encoding": {"x": {"datum": 10.41}, "y": {"datum": 66301}}},
{"data": {"values": [{}]},
 "mark": {"type": "text", "text": "63,645.15", "align": "left", "baseline": "middle", "fontSize": 6.3, "color": "#ff9800"},
 "encoding": {"x": {"datum": 27.03}, "y": {"datum": 66301}}},
{"data": {"values": [{}]},
 "mark": {"type": "text", "text": "TV", "align": "left", "baseline": "middle", "fontSize": 11, "fontWeight": 900, "color": "#131722"},
 "encoding": {"x": {"datum": 9.11}, "y": {"datum": 61855}}},
{"data": {"values": [{}]},
 "mark": {"type": "text", "text": "TradingView", "align": "left", "baseline": "middle", "fontSize": 11, "fontWeight": "bold", "color": "#131722"},
 "encoding": {"x": {"datum": 15.63}, "y": {"datum": 61855}}}
]
}
